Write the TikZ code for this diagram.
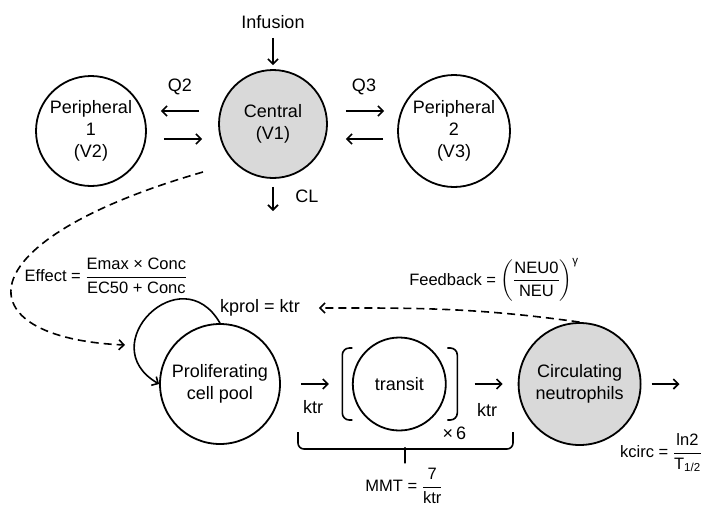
\documentclass[tikz,border=0pt]{standalone}
\usepackage{fontspec}
\usepackage{amsmath}
\setmainfont{Liberation Sans}
\usetikzlibrary{arrows.meta,positioning,calc}

\begin{document}
\begin{tikzpicture}[
    x=1pt, y=1pt,
    font=\fontsize{18}{22}\selectfont,
    comp/.style={circle, draw=black, line width=1.8pt, align=center, inner sep=0pt},
    pk/.style={comp, minimum size=108pt},
    cell/.style={comp, minimum size=120pt},
    shaded/.style={fill=black!15},
    flow/.style={-{Straight Barb[length=5pt,width=10pt]}, line width=1.6pt},
    feedback/.style={flow, dash pattern=on 8pt off 5pt},
    lbl/.style={inner sep=1pt},
    formula/.style={lbl, font=\fontsize{16.5}{20}\selectfont},
    bracket/.style={line width=1.6pt, rounded corners=7pt}
]

\useasboundingbox (0,0) rectangle (705,-507);
\clip (0,0) rectangle (705,-507);

% PK part
\node[pk, shaded] (central) at (273,-124) {Central\\(V1)};
\node[pk, minimum size=110pt] (periph1) at (91,-131) {Peripheral\\1\\(V2)};
\node[pk, minimum size=112pt] (periph2) at (454,-131) {Peripheral\\2\\(V3)};
\node[lbl] (infusion) at (273,-22) {Infusion};
\node[lbl] (q2) at (180,-87) {Q2};
\node[lbl] (q3) at (364,-87) {Q3};
\node[lbl] (cl) at (307,-196) {CL};
\coordinate (clend) at (273,-211);

\draw[flow, shorten <=8pt, shorten >=4pt] (infusion) -- (central);
\draw[flow, shorten <=19pt, shorten >=14pt] ([yshift=13pt]central.west) -- ([yshift=20pt]periph1.east);
\draw[flow, shorten <=17pt, shorten >=16pt] ([yshift=-8pt]periph1.east) -- ([yshift=-15pt]central.west);
\draw[flow, shorten <=18pt, shorten >=13pt] ([yshift=13pt]central.east) -- ([yshift=20pt]periph2.west);
\draw[flow, shorten <=14pt, shorten >=18pt] ([yshift=-8pt]periph2.west) -- ([yshift=-15pt]central.east);
\draw[flow, shorten <=8pt] (central.south) -- (clend);

% neutrophil part
\node[cell] (prolif) at (220,-384) {Proliferating\\cell pool};
\node[comp, minimum size=93pt, right=71pt of prolif] (transit) {transit};
\node[cell, shaded, minimum size=122pt, right=71pt of transit] (circ) {Circulating\\neutrophils};
\coordinate (outend) at ($(circ.east)+(38,0)$);

\node[lbl] (ktr1) at (313,-407) {ktr};
\node[lbl] (ktr2) at (487,-410) {ktr};
\node[lbl] (times6) at ($(transit)+(55,-49)$) {×\,6};
\node[lbl] (kprol) at (260,-308) {kprol = ktr};

\draw[flow, shorten <=20pt, shorten >=23pt] (prolif) -- (transit);
\draw[flow, shorten <=28pt, shorten >=15pt] (transit) -- (circ);
\draw[flow, shorten <=10pt] (circ) -- (outend);
\draw[flow] (prolif.north) to[out=120, in=150, looseness=2.3] (prolif.west);

% brackets round the transit compartment
\draw[bracket] ($(transit)+(-47,36)$) -- ++(-10,0) -- ++(0,-72) -- ++(10,0);
\draw[bracket] ($(transit)+(48,36)$) -- ++(10,0) -- ++(0,-72) -- ++(-10,0);

% brace under the transit chain
\draw[line width=1.6pt, rounded corners=6pt] (298,-432) |- (399,-449) arc[start angle=90, end angle=0, radius=6] -- (405,-467)
    -- (405,-455) arc[start angle=180, end angle=90, radius=6] -| (513,-432);

% drug effect and feedback
\coordinate (effstart) at ($(central)+(-70,-48)$);
\coordinate (effend) at ($(prolif)+(-95,39)$);
\draw[feedback] (effstart) .. controls (-40,-242) and (-36,-338) .. (effend);
\draw[feedback, shorten >=18pt] (circ.north) to[out=172, in=0] (kprol.east);

\node[formula] (effect) at (106,-276) {Effect = $\dfrac{\text{Emax × Conc}}{\text{EC50 + Conc}}$};
\node[formula] (fb) at (494,-280) {Feedback = $\left(\dfrac{\text{NEU0}}{\text{NEU}}\right)^{\text{γ}}$};
\node[formula] (mmt) at (404,-486) {MMT = $\dfrac{\text{7}}{\text{ktr}}$};
\node[formula, anchor=west] (kcirc) at (619,-453) {kcirc = $\dfrac{\text{ln2}}{\text{T}_{\text{1/2}}}$};

\end{tikzpicture}
\end{document}
